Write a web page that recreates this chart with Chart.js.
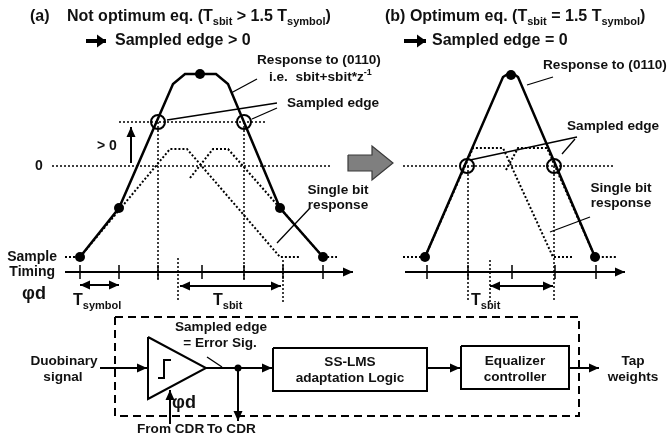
<!DOCTYPE html>
<html>
<head>
<meta charset="utf-8">
<script src="https://cdn.jsdelivr.net/npm/chart.js@4/dist/chart.umd.min.js"></script>
<style>
  html, body { margin: 0; padding: 0; background: #fff; }
  #wrap { width: 670px; height: 439px; }
</style>
</head>
<body>
<div id="wrap"><canvas id="c" width="670" height="439"></canvas></div>
<script>

// (a) not optimum: response to 0110 and the two single bit responses
const respA = [[80, 257], [119, 208], [173, 84], [185, 74], [216, 74], [228, 84], [280, 208], [323, 257]];
const bit1A = [[65, 257], [80, 257], [170, 149], [187, 149], [280, 257], [300, 257]];
const bit2A = [[190, 178], [213, 149], [228, 149], [280, 208], [323, 257], [337, 257]];
const samplesA = [[80, 257], [119, 208], [200, 74], [280, 208], [323, 257]];
const edgesA = [[158, 122], [244, 122]];
const ticksA = [80, 119, 158, 202, 244, 283, 323];

// (b) optimum
const respB = [[425, 257], [503, 77], [511, 72], [518, 77], [595, 257]];
const bit1B = [[403, 257], [425, 257], [473, 148], [503, 148], [553, 257], [572, 257]];
const bit2B = [[506, 170], [518, 148], [547, 148], [595, 257], [617, 257]];
const samplesB = [[425, 257], [511, 75], [595, 257]];
const edgesB = [[467, 166], [554, 166]];
const ticksB = [427, 468, 512, 555, 596];

// levels
const zeroA = [[52, 166], [330, 166]];
const edgeLevelA = [[119, 122], [267, 122]];
const zeroB = [[403, 166], [613, 166]];

// block diagram
const dashBox = [[115, 317], [579, 317], [579, 416], [115, 416], [115, 317]];
const comparator = [[148, 337], [206, 368], [148, 399], [148, 337]];
const stepSym = [[158, 378], [164, 378], [164, 360], [171, 360]];
const lmsBox = [[273, 348], [427, 348], [427, 391], [273, 391], [273, 348]];
const eqBox = [[461, 346], [569, 346], [569, 389], [461, 389], [461, 346]];
const bigArrow = [[348, 155], [372, 155], [372, 146], [393, 163], [372, 180], [372, 171], [348, 171], [348, 155]];

const T = 16, L = 13.6;
const labels = [
  ['(a)', 30, 17, 'left', T],
  ['Not optimum eq. (T_{sbit} > 1.5 T_{symbol})', 67, 17, 'left', T],
  ['Sampled edge > 0', 115, 41, 'left', T],
  ['(b) Optimum eq. (T_{sbit} = 1.5 T_{symbol})', 385, 17, 'left', T],
  ['Sampled edge = 0', 432, 41, 'left', T],
  ['Response to (0110)', 257, 60, 'left', L],
  ['i.e.  sbit+sbit*z^{-1}', 269, 77, 'left', L],
  ['Sampled edge', 287, 103, 'left', L],
  ['> 0', 97, 146, 'left', 14],
  ['0', 39, 166, 'center', 14],
  ['Single bit', 338, 190, 'center', L],
  ['response', 338, 205, 'center', L],
  ['Sample', 57, 257, 'right', 14],
  ['Timing', 55, 272, 'right', 14],
  ['φd', 22, 294, 'left', 18],
  ['T_{symbol}', 73, 301, 'left', T],
  ['T_{sbit}', 213, 301, 'left', T],
  ['Response to (0110)', 543, 65, 'left', L],
  ['Sampled edge', 567, 126, 'left', L],
  ['Single bit', 621, 188, 'center', L],
  ['response', 621, 203, 'center', L],
  ['T_{sbit}', 471, 301, 'left', T],
  ['Sampled edge', 221, 327, 'center', L],
  ['= Error Sig.', 220, 343, 'center', L],
  ['Duobinary', 64, 361, 'center', L],
  ['signal', 63, 377, 'center', L],
  ['φd', 172, 403, 'left', 18],
  ['From CDR', 137, 429, 'left', L],
  ['To CDR', 207, 429, 'left', L],
  ['SS-LMS', 350, 362, 'center', L],
  ['adaptation Logic', 350, 378, 'center', L],
  ['Equalizer', 515, 361, 'center', L],
  ['controller', 515, 377, 'center', L],
  ['Tap', 633, 361, 'center', L],
  ['weights', 633, 377, 'center', L]
];

const FONT = 'Arial, "Liberation Sans", sans-serif';

function pts(a) { return a.map(([x, y]) => ({ x, y })); }

function line(a, o = {}) {
  return Object.assign({
    data: pts(a), showLine: true, pointRadius: 0, borderColor: '#000',
    borderWidth: 2, clip: false, tension: 0
  }, o);
}
const dotted = (a, w = 2) => line(a, { borderDash: [2, 2], borderWidth: w });
const thin = a => line(a, { borderWidth: 1.3 });
const arrow = (a, head = 'end', w = 2) => line(a, { head, borderWidth: w });

function dots(a, r) {
  return { data: pts(a), showLine: false, pointRadius: r, pointBackgroundColor: '#000',
    pointBorderColor: '#000', pointBorderWidth: 0, clip: false };
}
function rings(a) {
  return { data: pts(a), showLine: false, pointRadius: 7, pointBackgroundColor: 'rgba(0,0,0,0)',
    pointBorderColor: '#000', pointBorderWidth: 2, clip: false };
}
function ticks(xs) {
  return xs.map(x => line([[x, 265], [x, 279]], { borderWidth: 1.5 }));
}

const datasets = [
  // panel a
  dotted(zeroA, 1.5), dotted(edgeLevelA, 1.5),
  dotted([[158, 122], [158, 281]], 1.5), dotted([[244, 122], [244, 281]], 1.5),
  dotted([[178, 258], [178, 302]], 1.5), dotted([[283, 260], [283, 302]], 1.5),
  dotted(bit1A), dotted(bit2A),
  line(respA, { borderWidth: 2.5 }),
  dots(samplesA, 5), rings(edgesA),
  arrow([[65, 272], [353, 272]]), ...ticks(ticksA),
  arrow([[80, 285], [119, 285]], 'both'), arrow([[180, 286], [281, 286]], 'both'),
  arrow([[131, 163], [131, 127]]),
  thin([[231, 93], [257, 79]]), thin([[167, 120], [277, 103]]), thin([[252, 119], [277, 108]]),
  thin([[277, 243], [310, 208]]),
  arrow([[86, 41], [106, 41]], 'end', 4),
  // panel b
  dotted(zeroB, 1.5),
  dotted([[468, 166], [468, 302]], 1.5), dotted([[554, 166], [554, 302]], 1.5),
  dotted([[490, 260], [490, 302]], 1.5),
  dotted(bit1B), dotted(bit2B),
  line(respB, { borderWidth: 2.5 }),
  dots(samplesB, 5), rings(edgesB),
  arrow([[405, 272], [625, 272]]), ...ticks(ticksB),
  arrow([[490, 286], [553, 286]], 'both'),
  thin([[527, 85], [553, 77]]), thin([[470, 160], [577, 137]]), thin([[562, 154], [575, 139]]),
  thin([[550, 232], [590, 217]]),
  arrow([[404, 41], [426, 41]], 'end', 4),
  line(bigArrow, { borderWidth: 1.2, borderColor: '#3a3a3a', polyFill: '#7f7f7f' }),
  // block diagram
  line(dashBox, { borderDash: [8, 5], borderWidth: 2 }),
  line(comparator), line(stepSym), line(lmsBox), line(eqBox),
  arrow([[100, 368], [147, 368]]), arrow([[206, 368], [272, 368]]),
  arrow([[238, 368], [238, 421]]), arrow([[170, 424], [170, 390]]),
  arrow([[427, 368], [460, 368]]), arrow([[569, 368], [599, 368]]),
  thin([[207, 357], [222, 367]]),
  dots([[238, 368]], 3.5)
];

function drawRich(ctx, str, x, y, size, align) {
  const parts = str.split(/(_\{[^}]*\}|\^\{[^}]*\})/).filter(Boolean).map(p => {
    if (p[0] === '_' && p[1] === '{') return { t: p.slice(2, -1), s: Math.round(size * 0.7), dy: size * 0.3 };
    if (p[0] === '^' && p[1] === '{') return { t: p.slice(2, -1), s: Math.round(size * 0.66), dy: -size * 0.32 };
    return { t: p, s: size, dy: 0 };
  });
  let w = 0;
  parts.forEach(p => { ctx.font = `bold ${p.s}px ${FONT}`; p.w = ctx.measureText(p.t).width; w += p.w; });
  let cx = align === 'center' ? x - w / 2 : align === 'right' ? x - w : x;
  parts.forEach(p => {
    ctx.font = `bold ${p.s}px ${FONT}`;
    ctx.fillText(p.t, cx, y + p.dy);
    cx += p.w;
  });
}

const decorations = {
  id: 'decorations',
  beforeDatasetsDraw(chart) {
    const ctx = chart.ctx;
    chart.data.datasets.forEach((ds, i) => {
      if (!ds.polyFill) return;
      const el = chart.getDatasetMeta(i).data;
      ctx.save();
      ctx.beginPath();
      el.forEach((p, k) => k ? ctx.lineTo(p.x, p.y) : ctx.moveTo(p.x, p.y));
      ctx.closePath();
      ctx.fillStyle = ds.polyFill;
      ctx.fill();
      ctx.restore();
    });
  },
  afterDatasetsDraw(chart) {
    const ctx = chart.ctx;
    const { x: sx, y: sy } = chart.scales;
    ctx.save();
    ctx.fillStyle = '#000';
    chart.data.datasets.forEach((ds, i) => {
      if (!ds.head) return;
      const el = chart.getDatasetMeta(i).data;
      const n = el.length;
      const big = ds.borderWidth > 3;
      const len = big ? 9 : 10, half = big ? 6.5 : 4.5;
      const tip = (a, b) => {
        const ang = Math.atan2(a.y - b.y, a.x - b.x);
        ctx.beginPath();
        ctx.moveTo(a.x, a.y);
        ctx.lineTo(a.x - len * Math.cos(ang) + half * Math.sin(ang), a.y - len * Math.sin(ang) - half * Math.cos(ang));
        ctx.lineTo(a.x - len * Math.cos(ang) - half * Math.sin(ang), a.y - len * Math.sin(ang) + half * Math.cos(ang));
        ctx.closePath();
        ctx.fill();
      };
      if (ds.head === 'end' || ds.head === 'both') tip(el[n - 1], el[n - 2]);
      if (ds.head === 'start' || ds.head === 'both') tip(el[0], el[1]);
    });
    ctx.fillStyle = '#111';
    ctx.textBaseline = 'middle';
    labels.forEach(([t, x, y, align, size]) => {
      drawRich(ctx, t, sx.getPixelForValue(x), sy.getPixelForValue(y), size, align);
    });
    ctx.restore();
  }
};

new Chart(document.getElementById('c'), {
  type: 'scatter',
  data: { datasets },
  options: {
    responsive: false,
    devicePixelRatio: 1,
    animation: false,
    layout: { padding: 0, autoPadding: false },
    plugins: { legend: { display: false }, tooltip: { enabled: false } },
    scales: {
      x: { type: 'linear', min: 0, max: 670, display: false },
      y: { type: 'linear', min: 0, max: 439, reverse: true, display: false }
    }
  },
  plugins: [decorations]
});
</script>
</body>
</html>
